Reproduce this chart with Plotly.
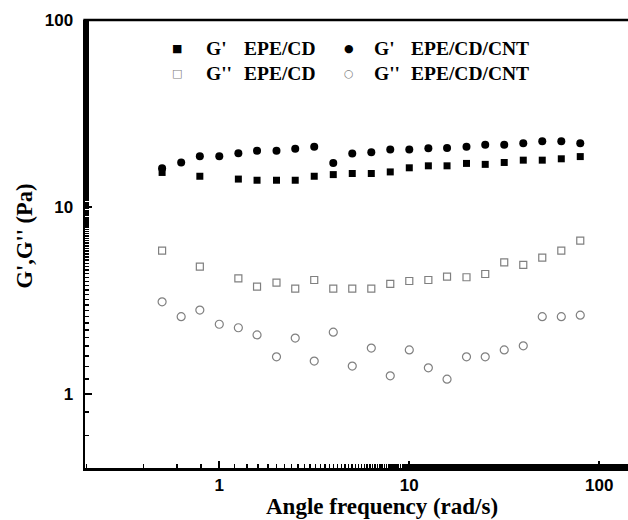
import plotly.graph_objects as go

# Frequencies (rad/s)
freq_all = [0.5, 0.63, 0.79, 1.0, 1.26, 1.58, 2.0, 2.51, 3.16, 3.98, 5.01, 6.31, 7.94,
            10.0, 12.6, 15.8, 20.0, 25.1, 31.6, 39.8, 50.1, 63.1, 79.4]
freq_cd = [0.5, 0.79, 1.26, 1.58, 2.0, 2.51, 3.16, 3.98, 5.01, 6.31, 7.94,
           10.0, 12.6, 15.8, 20.0, 25.1, 31.6, 39.8, 50.1, 63.1, 79.4]

g1_cd = [15.3, 14.6, 14.1, 13.9, 13.9, 13.9, 14.6, 14.9, 15.1, 15.1, 15.4,
         16.2, 16.6, 16.6, 17.1, 16.9, 17.3, 17.8, 17.8, 18.1, 18.6]
g2_cd = [5.84, 4.80, 4.15, 3.75, 3.94, 3.66, 4.07, 3.66, 3.66, 3.66, 3.88,
         4.02, 4.07, 4.24, 4.21, 4.38, 5.06, 4.90, 5.36, 5.84, 6.60]
g1_cnt = [16.1, 17.3, 18.7, 18.7, 19.4, 20.0, 20.0, 20.5, 21.0, 17.2, 19.3, 19.6, 20.3,
          20.3, 20.6, 20.7, 21.0, 21.5, 21.5, 21.9, 22.5, 22.5, 21.9]
g2_cnt = [3.11, 2.59, 2.81, 2.36, 2.26, 2.07, 1.58, 1.99, 1.50, 2.14, 1.41, 1.76, 1.25,
          1.72, 1.38, 1.20, 1.58, 1.58, 1.72, 1.81, 2.59, 2.59, 2.64]

x_ticks = [1, 10, 100]
y_ticks = [1, 10, 100]

GREY = "#808080"

fig = go.Figure()
fig.add_trace(go.Scatter(x=freq_cd, y=g1_cd, mode="markers", name="G' EPE/CD",
                         marker=dict(symbol="square", size=7, color="black", line=dict(width=0))))
fig.add_trace(go.Scatter(x=freq_all, y=g1_cnt, mode="markers", name="G' EPE/CD/CNT",
                         marker=dict(symbol="circle", size=8, color="black", line=dict(width=0))))
fig.add_trace(go.Scatter(x=freq_cd, y=g2_cd, mode="markers", name="G'' EPE/CD",
                         marker=dict(symbol="square-open", size=7, color=GREY, line=dict(width=1.2, color=GREY))))
fig.add_trace(go.Scatter(x=freq_all, y=g2_cnt, mode="markers", name="G'' EPE/CD/CNT",
                         marker=dict(symbol="circle-open", size=8, color=GREY, line=dict(width=1.2, color=GREY))))

# the frame of the original figure runs past the right edge of the picture
L, T, B, R = 85, 20, 468, 0
W, H = 640, 520
PW, PH = W - L - R, B - T

def px(x):
    return (x - L) / PW

def py(y):
    return (B - y) / PH

serif = dict(family="Liberation Serif", size=19.5, color="black", weight="bold")
ann = []
# legend glyphs
rows = [48.3, 73.3]
glyphs = [("■", 176.7, rows[0], "black"), ("●", 349.3, rows[0], "black"),
          ("□", 176.7, rows[1], GREY), ("○", 349.3, rows[1], GREY)]
for g, gx, gy, c in glyphs:
    ann.append(dict(x=px(gx), y=py(gy), xref="paper", yref="paper", text=g, showarrow=False,
                    xanchor="center", yanchor="middle",
                    font=dict(family="DejaVu Sans", size=11, color=c)))
texts = [("G'", 205, rows[0]), ("EPE/CD", 242.7, rows[0]),
         ("G'", 372.7, rows[0]), ("EPE/CD/CNT", 410.4, rows[0]),
         ("G''", 205, rows[1]), ("EPE/CD", 242.7, rows[1]),
         ("G''", 372.7, rows[1]), ("EPE/CD/CNT", 410.4, rows[1])]
for t, tx, ty in texts:
    ann.append(dict(x=px(tx), y=py(ty), xref="paper", yref="paper", text=t, showarrow=False,
                    xanchor="left", yanchor="middle", borderpad=0, font=serif))
# axis titles
ann.append(dict(x=px(382), y=py(506), xref="paper", yref="paper", text="Angle frequency (rad/s)",
                showarrow=False, xanchor="center", yanchor="middle", borderpad=0,
                font=dict(family="Liberation Serif", size=23, color="black", weight="bold")))
ann.append(dict(x=px(24), y=py(236.5), xref="paper", yref="paper", text="G',G'' (Pa)",
                showarrow=False, xanchor="center", yanchor="middle", textangle=-90,
                font=dict(family="Liberation Serif", size=22.5, color="black", weight="bold")))

tickfont = dict(family="Liberation Sans", size=17, color="black", weight="bold")
decade_x = 190.0
x_lo = -0.7068
x_hi = x_lo + PW / decade_x

fig.update_layout(
    width=W, height=H,
    margin=dict(l=L, r=R, t=T, b=H - B, pad=0),
    paper_bgcolor="white", plot_bgcolor="white",
    showlegend=False,
    annotations=ann,
    shapes=[
        dict(type="line", xref="paper", yref="paper", x0=-0.003, x1=1.01, y0=1.0, y1=1.0,
             line=dict(color="black", width=2.5), layer="above"),
    ],
    xaxis=dict(type="log", range=[x_lo, x_hi], tickvals=x_ticks, ticktext=[str(v) for v in x_ticks],
               ticks="inside", ticklen=7, tickwidth=2, tickcolor="black",
               minor=dict(ticks="inside", ticklen=4, tickwidth=1.5, tickcolor="black", showgrid=False),
               showline=True, linewidth=2.5, linecolor="black", mirror=False,
               showgrid=False, zeroline=False, tickfont=tickfont, ticklabelstandoff=0),
    yaxis=dict(type="log", range=[-0.396, 2.0], tickvals=y_ticks, ticktext=[str(v) for v in y_ticks],
               ticks="inside", ticklen=7, tickwidth=2, tickcolor="black",
               minor=dict(ticks="inside", ticklen=4, tickwidth=1.5, tickcolor="black", showgrid=False),
               showline=True, linewidth=2.5, linecolor="black", mirror=False,
               showgrid=False, zeroline=False, tickfont=tickfont, ticklabelstandoff=6),
)

fig.write_html(
    "out.html",
    config={"staticPlot": True, "displayModeBar": False},
    post_script="document.documentElement.style.overflow='hidden';"
                "document.body.style.overflow='hidden';document.body.style.margin='0';",
)
